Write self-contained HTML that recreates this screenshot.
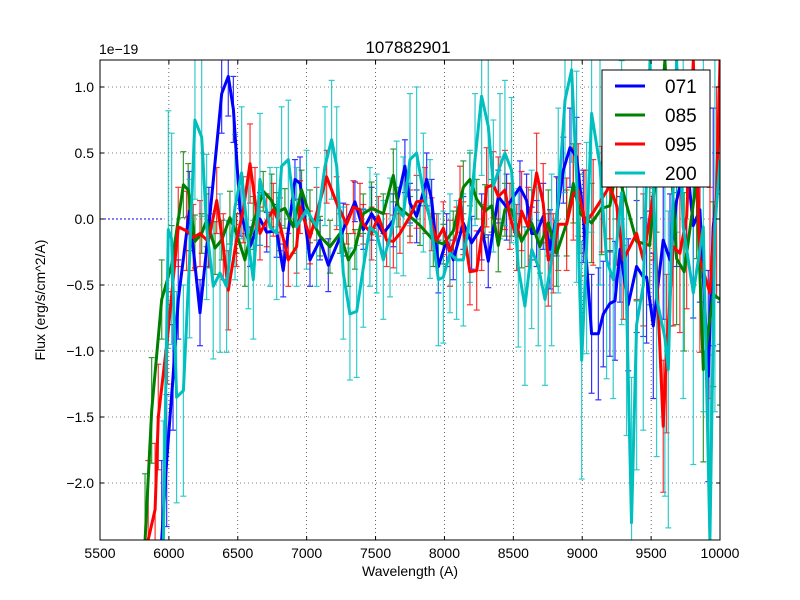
<!DOCTYPE html>
<html><head><meta charset="utf-8"><style>
html,body{margin:0;padding:0;background:#fff;width:800px;height:600px;overflow:hidden;}
svg{display:block;font-family:"Liberation Sans","DejaVu Sans",sans-serif;}
</style></head><body>
<svg id="c" width="800" height="600" xmlns="http://www.w3.org/2000/svg">
<defs><clipPath id="clip"><rect x="100" y="60" width="620" height="480"/></clipPath></defs>
<rect x="0" y="0" width="800" height="600" fill="#fff"/>
<rect x="100" y="60" width="620" height="480" fill="#fff"/>
<g id="grid"></g>
<g id="series" clip-path="url(#clip)"></g>
<rect x="100" y="60" width="620" height="480" fill="none" stroke="#000" stroke-width="1"/>
<g id="ticks"></g>
<text x="408" y="53" font-size="17" text-anchor="middle">107882901</text>
<text x="99" y="54" font-size="14">1e−19</text>
<text x="410" y="576" font-size="14" text-anchor="middle">Wavelength (A)</text>
<text x="45" y="300" font-size="14" text-anchor="middle" transform="rotate(-90 45 300)">Flux (erg/s/cm^2/A)</text>
<g id="legend"></g>
</svg>
<script>
const xTicks=[5500,6000,6500,7000,7500,8000,8500,9000,9500,10000];
const yTicks=[1.0,0.5,0.0,-0.5,-1.0,-1.5,-2.0];
const yTickLabels=["1.0","0.5","0.0","\u22120.5","\u22121.0","\u22121.5","\u22122.0"];
const names=["071","085","095","200"];
const colors=["#0000ff","#008000","#ff0000","#00bfbf"];
const wBlue=[5948,5984,6030,6068,6148,6226,6290,6383,6431,6468,6516,6589,6661,6710,6782,6830,6915,6952,7024,7097,7157,7266,7350,7411,7471,7556,7629,7713,7750,7798,7871,7907,7956,8016,8064,8137,8197,8270,8318,8391,8451,8548,8596,8633,8669,8717,8766,8814,8863,8911,8959,9008,9068,9117,9153,9201,9238,9274,9334,9395,9443,9467,9516,9588,9637,9685,9758,9806,9854,9915,9951,10000];
const vBlue=[-2.43,-1.83,-1.2,-0.61,0.06,-0.71,-0.06,0.95,1.08,0.83,0.07,-0.21,0,-0.1,-0.09,-0.39,0.30,0.27,-0.31,-0.16,-0.35,-0.08,0.13,-0.08,0.04,-0.11,-0.01,0.40,0.12,0.02,0.30,0.15,-0.36,-0.16,-0.31,-0.03,-0.18,-0.06,-0.32,0.17,0.09,0.24,0.14,-0.11,-0.11,0.02,-0.23,0.02,0.37,0.54,0.47,0.02,-0.87,-0.87,-0.72,-0.64,-0.62,-0.23,-0.65,-0.36,-0.44,-0.44,-0.81,-0.16,-0.31,0.14,0.45,-0.05,0.07,-1.19,-0.06,0.37];
const eBlue=[0.6,0.5,0.4,0.3,0.3,0.25,0.3,0.3,0.3,0.25,0.2,0.15,0.2,0.15,0.2,0.2,0.15,0.2,0.2,0.15,0.2,0.2,0.15,0.15,0.2,0.15,0.2,0.2,0.15,0.2,0.2,0.15,0.2,0.2,0.15,0.2,0.2,0.25,0.2,0.2,0.25,0.2,0.2,0.2,0.25,0.25,0.3,0.3,0.25,0.3,0.3,0.35,0.45,0.5,0.4,0.4,0.45,0.4,0.5,0.5,0.45,0.5,0.55,0.6,0.5,0.5,0.6,0.7,0.7,0.8,0.9,1.0];
const wGreen=[5827,5875,5948,6020,6105,6140,6189,6238,6274,6335,6383,6443,6491,6552,6613,6685,6746,6782,6842,6903,6963,7024,7097,7169,7242,7302,7350,7411,7471,7556,7629,7665,7750,7823,7919,7992,8064,8137,8185,8234,8294,8342,8391,8439,8487,8560,8633,8693,8754,8814,8887,8935,8984,9068,9141,9201,9250,9298,9395,9490,9540,9600,9685,9740,9830,9879,9951,10000];
const vGreen=[-2.43,-1.45,-0.61,-0.35,0.26,0.22,-0.17,-0.11,-0.01,-0.22,-0.16,0.01,-0.11,-0.31,-0.03,0.21,0.14,0.05,0.08,-0.06,0.22,0.02,-0.13,-0.21,-0.11,-0.31,-0.23,0.04,0.08,0.04,0.33,0.09,0.02,-0.05,-0.16,-0.19,-0.09,0.24,0.30,0.15,0.06,0.10,-0.20,0.07,0.07,-0.17,-0.03,-0.21,-0.03,-0.26,-0.03,0.27,0.04,-0.03,0.08,0.10,0.4,0.2,-0.17,-0.2,0.4,1.2,-0.3,-0.4,0.3,-1.14,-0.57,-0.61];
const eGreen=[0.5,0.4,0.3,0.3,0.25,0.2,0.2,0.15,0.2,0.2,0.15,0.2,0.15,0.2,0.2,0.15,0.2,0.15,0.15,0.2,0.15,0.2,0.15,0.2,0.15,0.2,0.15,0.15,0.2,0.15,0.2,0.15,0.15,0.15,0.2,0.15,0.15,0.2,0.2,0.15,0.2,0.2,0.2,0.2,0.2,0.2,0.25,0.2,0.25,0.25,0.25,0.3,0.3,0.3,0.35,0.35,0.4,0.4,0.45,0.45,0.5,0.5,0.5,0.6,0.6,0.7,0.7,0.8];
const wRed=[5850,5900,5923,5990,6068,6128,6177,6226,6286,6347,6395,6431,6491,6540,6589,6625,6661,6710,6758,6806,6867,6927,6952,7024,7072,7145,7218,7290,7339,7387,7411,7471,7520,7580,7629,7677,7750,7798,7859,7907,7944,7992,8040,8088,8113,8137,8185,8234,8270,8306,8355,8391,8439,8475,8524,8560,8608,8669,8717,8754,8790,8826,8887,8935,8971,9020,9080,9141,9200,9250,9298,9395,9443,9516,9588,9612,9660,9709,9758,9806,9854,9927,9975,10000];
const vRed=[-2.43,-2.2,-1.5,-0.9,-0.06,-0.09,-0.14,-0.11,-0.17,0.14,-0.21,-0.54,-0.16,0.07,0.42,0.14,-0.11,-0.01,0.07,-0.04,-0.31,-0.21,0.09,-0.14,0.04,0.32,0.12,-0.04,0.09,0.07,-0.04,-0.11,0.02,-0.16,-0.17,-0.11,0.02,0.13,0.14,-0.04,-0.16,-0.07,-0.26,-0.11,0.15,-0.07,-0.40,-0.39,-0.14,0.24,0.26,0.17,0.22,0.02,-0.14,0.06,-0.06,0.35,0.12,-0.31,-0.26,-0.04,-0.04,0.19,0.22,-0.03,0.05,0.15,0.25,0.1,-0.31,-0.11,-0.31,0.19,-1.57,-1.02,-0.21,-0.26,0.02,1.2,-0.31,-0.56,0.2,1.2];
const eRed=[0.6,0.5,0.4,0.35,0.3,0.3,0.25,0.25,0.2,0.25,0.25,0.3,0.2,0.25,0.3,0.25,0.2,0.2,0.2,0.2,0.2,0.2,0.2,0.2,0.2,0.2,0.2,0.15,0.2,0.2,0.15,0.2,0.15,0.2,0.2,0.15,0.2,0.2,0.25,0.2,0.2,0.2,0.25,0.2,0.25,0.2,0.25,0.3,0.25,0.3,0.25,0.3,0.3,0.25,0.25,0.3,0.3,0.3,0.3,0.35,0.3,0.35,0.35,0.35,0.35,0.4,0.4,0.4,0.4,0.45,0.45,0.5,0.5,0.5,0.5,0.6,0.6,0.6,0.7,0.7,0.7,0.8,0.8,0.9];
const wCyan=[5960,5996,6020,6056,6105,6150,6189,6238,6274,6322,6371,6419,6480,6528,6577,6613,6661,6734,6782,6818,6867,6927,6999,7072,7133,7181,7218,7266,7314,7363,7411,7459,7508,7556,7605,7653,7701,7750,7798,7847,7895,7956,7992,8040,8088,8137,8185,8222,8270,8318,8355,8403,8439,8487,8536,8584,8633,8681,8730,8778,8826,8875,8923,8959,8996,9032,9068,9129,9177,9225,9286,9322,9358,9395,9443,9492,9540,9600,9625,9685,9733,9806,9879,9927,9963,10000];
const vCyan=[-2.43,-0.08,-0.15,-1.35,-1.3,-0.3,0.75,0.62,-0.06,-0.51,-0.41,-0.51,0.09,0.35,-0.18,-0.46,0.30,-0.06,-0.11,0.40,0.45,-0.06,0.07,-0.06,0.40,0.60,0.40,-0.41,-0.72,-0.70,-0.37,-0.06,-0.11,-0.31,-0.14,0.09,0.02,0.45,0.5,0.2,0.0,-0.46,-0.44,-0.26,-0.31,-0.31,0.02,0.45,0.93,0.70,0.25,0.40,0.50,0.37,-0.37,-0.66,-0.23,-0.36,-0.61,-0.31,0.14,0.90,1.13,0.32,-1.07,-0.22,0.80,0.40,-0.31,-0.46,0.2,-0.64,-2.3,-0.8,-0.5,1.2,-0.6,-0.9,-1.14,1.2,-0.06,-0.56,-0.06,-2.43,-0.06,0.45];
const eCyan=[0.9,0.9,0.8,0.8,0.8,0.6,0.6,0.6,0.55,0.55,0.6,0.5,0.55,0.5,0.5,0.45,0.5,0.45,0.5,0.45,0.45,0.45,0.45,0.45,0.45,0.45,0.45,0.5,0.5,0.5,0.45,0.45,0.45,0.45,0.45,0.5,0.45,0.5,0.5,0.45,0.45,0.5,0.5,0.45,0.45,0.5,0.5,0.5,0.6,0.6,0.5,0.55,0.55,0.55,0.6,0.6,0.6,0.6,0.65,0.65,0.7,0.7,0.7,0.8,0.9,0.8,0.9,0.9,0.9,0.9,1.0,1.0,1.1,1.1,1.1,1.2,1.2,1.2,1.2,1.3,1.3,1.3,1.4,1.4,1.4,1.4];
const seriesW=[wBlue,wGreen,wRed,wCyan];
const seriesV=[vBlue,vGreen,vRed,vCyan];
const seriesE=[eBlue,eGreen,eRed,eCyan];

const X0=100,X1=720,Y0=60,Y1=540,XMIN=5500,XMAX=10000,YMAX=1.2045,YMIN=-2.4318;
function sx(w){return X0+(w-XMIN)/(XMAX-XMIN)*(X1-X0);}
function sy(v){return Y0+(YMAX-v)/(YMAX-YMIN)*(Y1-Y0);}
function clampY(y){return Math.max(Y0,Math.min(Y1,y));}
const NS="http://www.w3.org/2000/svg";
function mk(tag,attrs,parent){const e=document.createElementNS(NS,tag);for(const k in attrs)e.setAttribute(k,attrs[k]);parent.appendChild(e);return e;}
const grid=document.getElementById('grid'),ticks=document.getElementById('ticks'),ser=document.getElementById('series'),leg=document.getElementById('legend');
xTicks.forEach(t=>{const x=sx(t);
 const g=mk('line',{x1:x,x2:x,y1:Y0,y2:Y1,stroke:'#000','stroke-width':0.6,'stroke-dasharray':'1,3'},grid);
 
 
 mk('line',{x1:x,x2:x,y1:Y1,y2:Y1-4,stroke:'#000'},ticks);
 mk('line',{x1:x,x2:x,y1:Y0,y2:Y0+4,stroke:'#000'},ticks);
 const tx=mk('text',{x:x,y:Y1+18,'font-size':14,'text-anchor':'middle'},ticks);tx.textContent=t;
 
 
});
yTicks.forEach((t,i)=>{const y=sy(t);
 const g=mk('line',{x1:X0,x2:X1,y1:y,y2:y,stroke:'#000','stroke-width':0.6,'stroke-dasharray':'1,3'},grid);
 
 
 mk('line',{x1:X0,x2:X0+4,y1:y,y2:y,stroke:'#000'},ticks);
 mk('line',{x1:X1,x2:X1-4,y1:y,y2:y,stroke:'#000'},ticks);
 const tx=mk('text',{x:X0-6,y:y+5,'font-size':14,'text-anchor':'end'},ticks);tx.textContent=yTickLabels[i];
 
 
});
const bl=mk('line',{x1:sx(5500),x2:sx(5960),y1:sy(0),y2:sy(0),stroke:'#0000ff','stroke-width':1,'stroke-dasharray':'2,2'},ser);


seriesW.forEach((W,s)=>{const V=seriesV[s],E=seriesE[s];const g=mk('g',{stroke:colors[s],'stroke-width':1.2,opacity:0.8},ser);
 
 
 for(let i=0;i<W.length&&i<V.length;i++){const e=E[i]!==undefined?E[i]:0.3;const x=sx(W[i]);
  const ra=sy(V[i]+e),rb=sy(V[i]-e);const ya=clampY(ra),yb=clampY(rb);
  if(yb>ya) mk('line',{x1:x,x2:x,y1:ya,y2:yb},g);
  if(ra>=Y0&&ra<=Y1) mk('line',{x1:x-3,x2:x+3,y1:ra,y2:ra},g);
  if(rb>=Y0&&rb<=Y1) mk('line',{x1:x-3,x2:x+3,y1:rb,y2:rb},g);}
});
seriesW.forEach((W,s)=>{const V=seriesV[s];let d='';
 for(let i=0;i<W.length&&i<V.length;i++){d+=(i?'L':'M')+sx(W[i]).toFixed(1)+','+sy(V[i]).toFixed(1);}
 const p=mk('path',{d:d,fill:'none',stroke:colors[s],'stroke-width':3,'stroke-linejoin':'round'},ser);
 
 
});
const lb=mk('rect',{x:602,y:70,width:108,height:117,fill:'#fff',stroke:'#000','stroke-width':1},leg);


names.forEach((n,i)=>{const y=86+i*29;
 const l=mk('line',{x1:615,x2:645,y1:y,y2:y,stroke:colors[i],'stroke-width':3},leg);
 
 
 const t=mk('text',{x:665,y:y+7,'font-size':19},leg);t.textContent=n;
 
 
});
</script>
</body></html>
